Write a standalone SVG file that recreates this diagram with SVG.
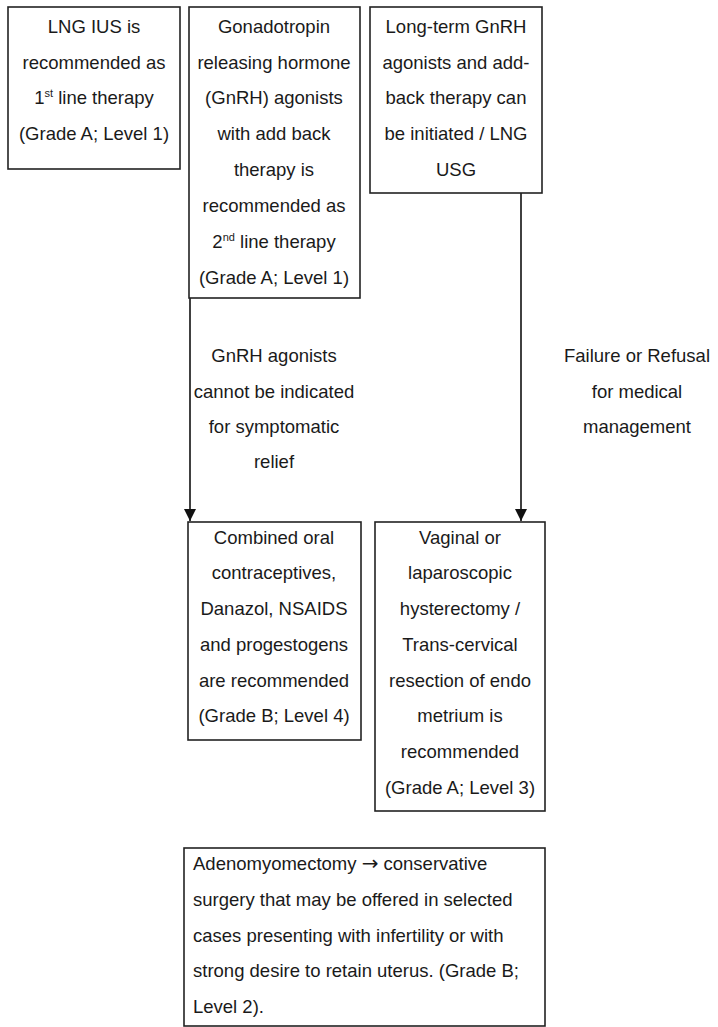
<svg xmlns="http://www.w3.org/2000/svg" width="718" height="1027" viewBox="0 0 718 1027">
<style>
.box{fill:#fff;stroke:#222;stroke-width:1.6}
.t{font-family:"Liberation Sans",Arial,sans-serif;font-size:18.5px;fill:#1a1a1a;text-anchor:middle}
.l{text-anchor:start}
.sup{font-size:11px}
.arr{font-family:"DejaVu Sans",sans-serif;font-size:20px}
.edge{stroke:#111;stroke-width:1.6;fill:none}
</style>
<defs>
<marker id="ah" markerWidth="14" markerHeight="14" refX="12" refY="6" orient="auto" markerUnits="userSpaceOnUse">
<path d="M0,0 L12,6 L0,12 Z" fill="#111"/>
</marker>
</defs>
<rect width="718" height="1027" fill="#fff"/>
<g id="connectors">
<line class="edge" x1="190" y1="298" x2="190" y2="521" marker-end="url(#ah)"/>
<line class="edge" x1="521" y1="193" x2="521" y2="521" marker-end="url(#ah)"/>
<text class="t" x="274" y="362">GnRH agonists</text>
<text class="t" x="274" y="398">cannot be indicated</text>
<text class="t" x="274" y="433">for symptomatic</text>
<text class="t" x="274" y="468">relief</text>
<text class="t" x="637" y="362">Failure or Refusal</text>
<text class="t" x="637" y="398">for medical</text>
<text class="t" x="637" y="433">management</text>
</g>
<g id="n1">
<rect class="box" x="8" y="7" width="172" height="162"/>
<text class="t" x="94" y="33">LNG IUS is</text>
<text class="t" x="94" y="69">recommended as</text>
<text class="t" x="94" y="104">1<tspan class="sup" dy="-7">st</tspan><tspan dy="7"> line therapy</tspan></text>
<text class="t" x="94" y="140">(Grade A; Level 1)</text>
</g>
<g id="n2">
<rect class="box" x="189" y="7" width="171" height="291"/>
<text class="t" x="274" y="33">Gonadotropin</text>
<text class="t" x="274" y="69">releasing hormone</text>
<text class="t" x="274" y="104">(GnRH) agonists</text>
<text class="t" x="274" y="140">with add back</text>
<text class="t" x="274" y="176">therapy is</text>
<text class="t" x="274" y="212">recommended as</text>
<text class="t" x="274" y="248">2<tspan class="sup" dy="-7">nd</tspan><tspan dy="7"> line therapy</tspan></text>
<text class="t" x="274" y="284">(Grade A; Level 1)</text>
</g>
<g id="n3">
<rect class="box" x="370" y="7" width="172" height="186"/>
<text class="t" x="456" y="33">Long-term GnRH</text>
<text class="t" x="456" y="69">agonists and add-</text>
<text class="t" x="456" y="104">back therapy can</text>
<text class="t" x="456" y="140">be initiated / LNG</text>
<text class="t" x="456" y="176">USG</text>
</g>
<g id="n4">
<rect class="box" x="188" y="522" width="173" height="218"/>
<text class="t" x="274" y="544">Combined oral</text>
<text class="t" x="274" y="579">contraceptives,</text>
<text class="t" x="274" y="615">Danazol, NSAIDS</text>
<text class="t" x="274" y="651">and progestogens</text>
<text class="t" x="274" y="687">are recommended</text>
<text class="t" x="274" y="722">(Grade B; Level 4)</text>
</g>
<g id="n5">
<rect class="box" x="375" y="522" width="170" height="289"/>
<text class="t" x="460" y="544">Vaginal or</text>
<text class="t" x="460" y="579">laparoscopic</text>
<text class="t" x="460" y="615">hysterectomy /</text>
<text class="t" x="460" y="651">Trans-cervical</text>
<text class="t" x="460" y="687">resection of endo</text>
<text class="t" x="460" y="722">metrium is</text>
<text class="t" x="460" y="758">recommended</text>
<text class="t" x="460" y="794">(Grade A; Level 3)</text>
</g>
<g id="n6">
<rect class="box" x="184" y="848" width="361" height="178"/>
<text class="t l" x="193" y="870">Adenomyomectomy <tspan class="arr">→</tspan> conservative</text>
<text class="t l" x="193" y="906">surgery that may be offered in selected</text>
<text class="t l" x="193" y="942">cases presenting with infertility or with</text>
<text class="t l" x="193" y="977">strong desire to retain uterus. (Grade B;</text>
<text class="t l" x="193" y="1013">Level 2).</text>
</g>
</svg>
